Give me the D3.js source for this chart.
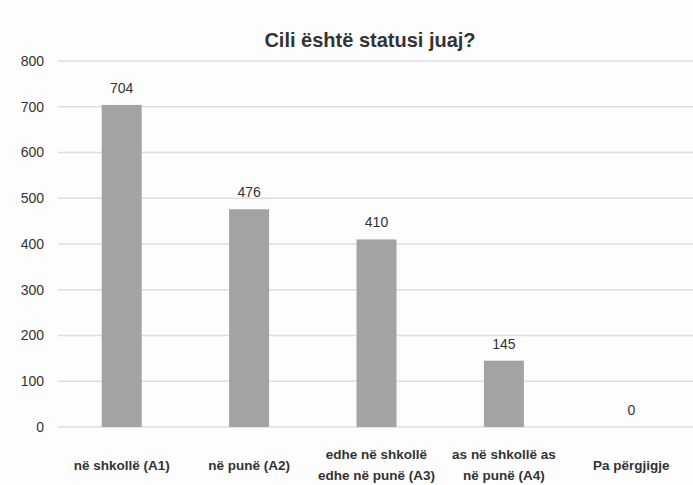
<!DOCTYPE html>
<html>
<head>
<meta charset="utf-8">
<script src="https://cdn.jsdelivr.net/npm/d3@7"></script>
<style>
html,body{margin:0;padding:0;background:#fdfdfd;}
svg{display:block;}
text{font-family:"Liberation Sans",Arial,sans-serif;fill:#333;}
</style>
</head>
<body>
<svg id="chart" width="693" height="485"></svg>
<script>
const title = "Cili është statusi juaj?";
const categories = [
  ["në shkollë (A1)"],
  ["në punë (A2)"],
  ["edhe në shkollë", "edhe në punë (A3)"],
  ["as në shkollë as", "në punë (A4)"],
  ["Pa përgjigje"]
];
const values = [704, 476, 410, 145, 0];
const yTicks = [0, 100, 200, 300, 400, 500, 600, 700, 800];

const W = 693, H = 485;
const margin = {left: 58, right: -2, top: 61, bottom: 58};
const svg = d3.select("#chart");
svg.append("rect").attr("width", W).attr("height", H).attr("fill", "#fdfdfd");

const idx = categories.map((d, i) => i);
const x = d3.scaleBand().domain(idx).range([margin.left, W - margin.right]).padding(0);
const y = d3.scaleLinear().domain([0, 800]).range([H - margin.bottom, margin.top]);
const barW = x.bandwidth() * 0.314;

// gridlines
svg.append("g").selectAll("line").data(yTicks).join("line")
  .attr("x1", margin.left).attr("x2", W)
  .attr("y1", d => y(d)).attr("y2", d => y(d))
  .attr("stroke", "#dedede").attr("stroke-width", 1.5);

// y axis labels
const yAxis = d3.axisLeft(y).tickValues(yTicks).tickSize(0).tickPadding(0);
const gy = svg.append("g").attr("transform", `translate(${margin.left - 14},0)`).call(yAxis);
gy.select(".domain").remove();
gy.selectAll("text").attr("font-size", 14).attr("fill", "#333")
  .style("font-family", '"Liberation Sans",Arial,sans-serif');

// bars
svg.append("g").selectAll("rect").data(values).join("rect")
  .attr("x", (d, i) => x(i) + (x.bandwidth() - barW) / 2)
  .attr("width", barW)
  .attr("y", d => y(d))
  .attr("height", d => y(0) - y(d))
  .attr("fill", "#a3a3a5");

// value labels
svg.append("g").selectAll("text").data(values).join("text")
  .attr("x", (d, i) => x(i) + x.bandwidth() / 2)
  .attr("y", d => y(d) - 12)
  .attr("text-anchor", "middle")
  .attr("font-size", 14)
  .text(d => d);

// category labels
const gc = svg.append("g");
categories.forEach((lines, i) => {
  const t = gc.append("text")
    .attr("x", x(i) + x.bandwidth() / 2)
    .attr("text-anchor", "middle")
    .attr("font-size", 13.5)
    .attr("font-weight", "bold")
    .attr("fill", "#333");
  const base = lines.length === 1 ? 470 : 459;
  lines.forEach((l, j) => {
    t.append("tspan").attr("x", x(i) + x.bandwidth() / 2).attr("y", base + j * 21).text(l);
  });
});

// title
svg.append("text")
  .attr("x", 370).attr("y", 47)
  .attr("text-anchor", "middle")
  .attr("font-size", 20)
  .attr("font-weight", "bold")
  .attr("fill", "#2e2e2e")
  .text(title);
</script>
</body>
</html>
